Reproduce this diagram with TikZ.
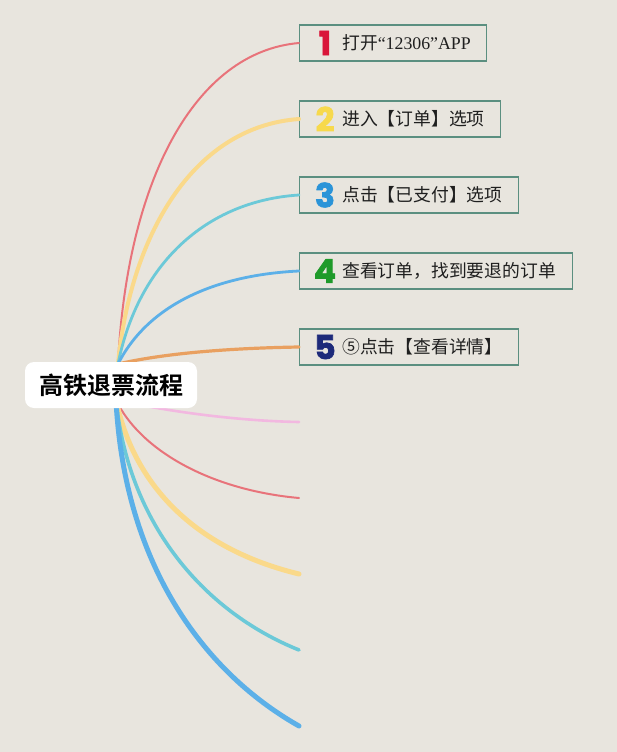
\documentclass[tikz,border=0pt]{standalone}
\usepackage{fontspec}
\newfontfamily\cjk{Noto Sans CJK SC}
\newfontfamily\cjkb{Noto Sans CJK SC Bold}
\newfontfamily\serifx{Liberation Serif}
\newfontfamily\numfont{Poppins}[FakeBold=2.2]
\usetikzlibrary{calc}
\definecolor{bg}{HTML}{E8E5DE}
\definecolor{boxline}{HTML}{5B8F80}
\definecolor{cRed}{HTML}{E8737A}
\definecolor{cYel}{HTML}{FAD98A}
\definecolor{cTeal}{HTML}{6CC9D8}
\definecolor{cBlue}{HTML}{5CB0E8}
\definecolor{cOra}{HTML}{E9A060}
\definecolor{cPink}{HTML}{F2B8E0}
\definecolor{n1}{HTML}{D9163A}
\definecolor{n2}{HTML}{F7D94C}
\definecolor{n3}{HTML}{2B94D8}
\definecolor{n4}{HTML}{1F9A2A}
\definecolor{n5}{HTML}{1D2A7A}
\tikzset{
  stepbox/.style={draw=boxline, line width=1.4pt, fill=bg, minimum height=36pt, inner sep=0pt, anchor=west},
  num/.style={font=\numfont\bfseries\fontsize{33}{33}\selectfont, inner sep=0pt},
  lbl/.style={font=\cjk\fontsize{17.8}{20}\selectfont, inner sep=0pt, anchor=west, text=black!88},
  branch/.style={line cap=round}
}
\begin{document}
\begin{tikzpicture}[x=1pt,y=1pt]
\fill[bg] (0,0) rectangle (617,-752);
\useasboundingbox (0,0) rectangle (617,-752);
% hubs
\coordinate (hubT) at (118,-364);
\coordinate (hubB) at (116,-400);
% boxes
\node[stepbox, minimum width=187pt] (b1) at (299,-43) {};
\node[stepbox, minimum width=201pt] (b2) at (299,-119) {};
\node[stepbox, minimum width=219pt] (b3) at (299,-195) {};
\node[stepbox, minimum width=273pt] (b4) at (299,-271) {};
\node[stepbox, minimum width=219pt] (b5) at (299,-347) {};
% free ends
\coordinate (e6) at (299,-422);
\coordinate (e7) at (299,-498);
\coordinate (e8) at (299,-574);
\coordinate (e9) at (299,-650);
\coordinate (e10) at (299,-726);
% branches
\draw[branch, cRed, line width=2pt] (hubT) .. controls (127,-180) and (195,-52) .. (b1.west);
\draw[branch, cYel, line width=4pt] (hubT) .. controls (130,-240) and (190,-127) .. (b2.west);
\draw[branch, cTeal, line width=2.8pt] (hubT) .. controls (138,-265) and (205,-201) .. (b3.west);
\draw[branch, cBlue, line width=2.8pt] (hubT) .. controls (148,-305) and (215,-275) .. (b4.west);
\draw[branch, cOra, line width=3.2pt] (hubT) .. controls (170,-352) and (240,-348) .. (b5.west);
\draw[branch, cPink, line width=2.6pt] (hubB) .. controls (170,-412) and (240,-421) .. (e6);
\draw[branch, cRed, line width=2pt] (hubB) .. controls (140,-450) and (210,-490) .. (e7);
\draw[branch, cYel, line width=5pt] (hubB) .. controls (135,-490) and (200,-550) .. (e8);
\draw[branch, cTeal, line width=3.6pt] (hubB) .. controls (128,-520) and (200,-610) .. (e9);
\draw[branch, cBlue, line width=5pt] (hubB) .. controls (124,-560) and (200,-670) .. (e10);
% centre
\node[fill=white, rounded corners=9pt, minimum width=172pt, minimum height=46pt, inner sep=0pt,
      font=\cjkb\fontsize{24}{26}\selectfont] (c) at (111,-385) {高铁退票流程};
% numbers and labels
\node[num, text=n1] at ($(b1.west)+(26,0)$) {1};
\node[num, text=n2] at ($(b2.west)+(26,0)$) {2};
\node[num, text=n3] at ($(b3.west)+(26,0)$) {3};
\node[num, text=n4] at ($(b4.west)+(26,0)$) {4};
\node[num, text=n5] at ($(b5.west)+(26,0)$) {5};
\node[lbl] (t1) at ($(b1.west)+(43,0)$) {打开{\serifx\fontsize{17.8}{20}\selectfont “12306”APP}};
\node[lbl] (t2) at ($(b2.west)+(43,0)$) {进入【订单】选项};
\node[lbl] (t3) at ($(b3.west)+(43,0)$) {点击【已支付】选项};
\node[lbl] (t4) at ($(b4.west)+(43,0)$) {查看订单，找到要退的订单};
\node[lbl] (t5) at ($(b5.west)+(43,0)$) {⑤点击【查看详情】};
\end{tikzpicture}
\end{document}
